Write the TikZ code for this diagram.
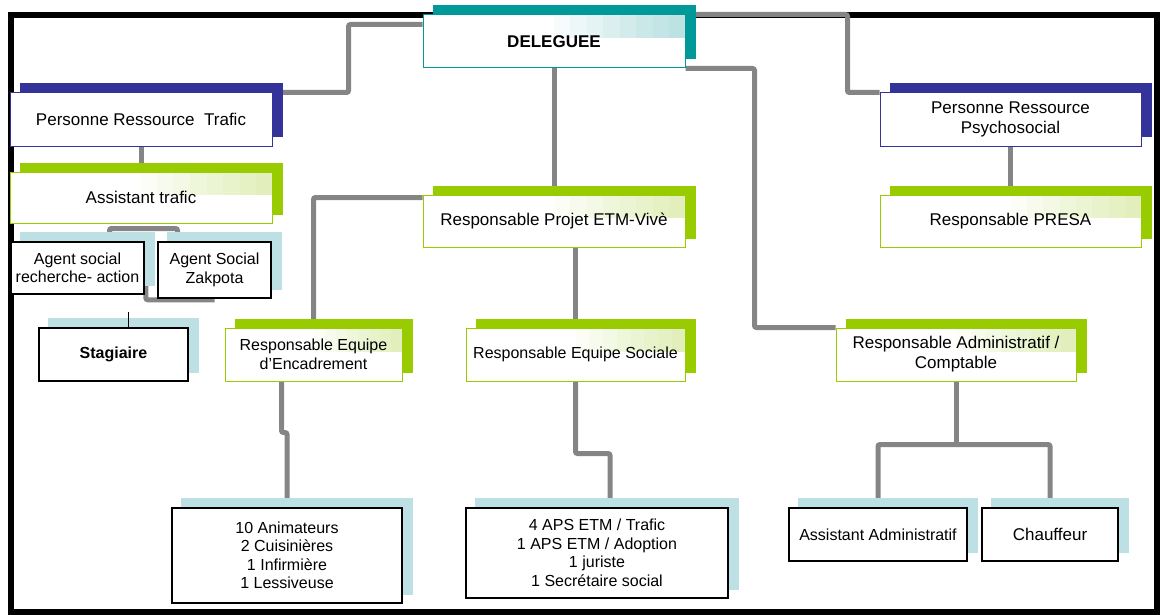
\documentclass[tikz,border=0pt]{standalone}
\usepackage{fontspec}
\setmainfont{Liberation Sans}
\usetikzlibrary{backgrounds,calc}
\definecolor{navy}{HTML}{333399}
\definecolor{leaf}{HTML}{99CC00}
\definecolor{sea}{HTML}{009999}
\definecolor{ice}{HTML}{BCE0E4}
\definecolor{wire}{HTML}{858585}
\tikzset{
    big-text/.style = {font=\fontsize{17}{20}\selectfont},
    small-text/.style = {font=\fontsize{16}{18.5}\selectfont},
    org-box/.style = {rectangle, align=center, inner sep=2pt, big-text},
    navy-box/.style = {org-box, draw=navy, line width=1pt},
    leaf-box/.style = {org-box, draw=leaf, line width=1pt},
    sea-box/.style = {org-box, draw=sea, line width=1pt},
    ice-box/.style = {org-box, small-text, draw=black, line width=1.6pt},
    link/.style = {draw=wire, line width=5pt, rounded corners=2pt},
}
\begin{document}
\begin{tikzpicture}[x=1pt, y=-1pt]
\useasboundingbox (0,0) rectangle (1164,615);
% top
\node[sea-box, font=\fontsize{17}{20}\selectfont\bfseries, minimum width=262pt, minimum height=53pt] (deleguee) at (554,41.5) {DELEGUEE};
% left branch
\node[navy-box, minimum width=262pt, minimum height=53pt] (prt) at (141,119.5) {Personne Ressource\ \ Trafic};
\node[leaf-box, minimum width=262pt, minimum height=51pt] (at) at (141,197.5) {Assistant trafic};
\node[ice-box, minimum width=133pt, minimum height=52pt] (asr) at (77.5,268) {Agent social\\recherche- action};
\node[ice-box, minimum width=113pt, minimum height=56pt] (asz) at (214.5,270) {Agent Social\\Zakpota};
\node[ice-box, font=\fontsize{16}{18.5}\selectfont\bfseries, minimum width=149pt, minimum height=53pt] (stg) at (113.5,354.5) {Stagiaire};
% middle branch
\node[leaf-box, minimum width=262pt, minimum height=52pt] (rpe) at (554,221) {Responsable Projet ETM-Vivè};
\node[leaf-box, small-text, minimum width=177pt, minimum height=53pt] (red) at (313.5,354.5) {Responsable Equipe\\d’Encadrement};
\node[leaf-box, small-text, minimum width=219pt, minimum height=53pt] (res) at (575.5,354.5) {Responsable Equipe Sociale};
\node[ice-box, minimum width=230pt, minimum height=95pt] (anim) at (287,555.5) {10 Animateurs\\2 Cuisinières\\1 Infirmière\\1 Lessiveuse};
\node[ice-box, minimum width=262pt, minimum height=90pt] (aps) at (597,553) {4 APS ETM / Trafic\\1 APS ETM / Adoption\\1 juriste\\1 Secrétaire social};
% right branch
\node[navy-box, minimum width=261pt, minimum height=53pt] (prp) at (1010.5,119.5) {Personne Ressource\\Psychosocial};
\node[leaf-box, minimum width=261pt, minimum height=52pt] (presa) at (1010.5,221) {Responsable PRESA};
\node[leaf-box, minimum width=240pt, minimum height=53pt] (rad) at (956,354.5) {Responsable Administratif /\\Comptable};
\node[ice-box, minimum width=178pt, minimum height=53pt] (aadm) at (878,534.5) {Assistant Administratif};
\node[ice-box, big-text, minimum width=136pt, minimum height=53pt] (chf) at (1050,534.5) {Chauffeur};
% frame, connectors, then backs, fills and glows of the boxes
\begin{scope}[on background layer]
\draw[line width=6pt] (11,15) rectangle (1157,612);
\draw[link] ([yshift=-10pt]deleguee.north west) -| ([xshift=76pt]prt.north east) -- (prt.north east);
\draw[link] (deleguee.north east) -| ([xshift=-32pt]prp.north west) -- (prp.north west);
\draw[link] (deleguee) -- (rpe);
\draw[link] (deleguee.south east) -| ([xshift=-81pt]rad.north west) -- (rad.north west);
\draw[link] (prt) -- (at);
\draw[link] ([xshift=32pt]asr.north) |- ([yshift=-5pt]at.south) -| ([xshift=-37pt]asz.north);
\draw[link] ([xshift=1pt, yshift=10pt]asr.south east) |- ([yshift=-1pt]asz.south);
\draw[link] ([yshift=-3pt]rpe.north west) -| (red);
\draw[link] (res) -- (res |- rpe.south);
\draw[link] ([xshift=-32pt]red.south) -- ++(0,51) -| (anim);
\draw[link] (res.south) -- ++(0,72) -| ([xshift=13pt]aps.north);
\draw[link] (prp) -- (presa);
\draw[link] (rad) -- ([yshift=-63pt]rad.south);
\draw[link] (aadm) |- ([yshift=-63pt]rad.south) -| (chf);
\foreach \n/\c in {deleguee/sea, prt/navy, prp/navy, at/leaf, rpe/leaf, presa/leaf, red/leaf, res/leaf, rad/leaf,
                   asr/ice, asz/ice, stg/ice, anim/ice, aps/ice, aadm/ice, chf/ice} {
    \fill[\c] ([xshift=10pt, yshift=9pt]\n.south west) rectangle ([xshift=10pt, yshift=9pt]\n.north east);
    \fill[white] (\n.south west) rectangle (\n.north east);
}
\foreach \n/\c in {deleguee/sea, at/leaf, rpe/leaf, presa/leaf, red/leaf, res/leaf, rad/leaf}
    \foreach \i in {0,...,7}
        \fill[\c, opacity=0.035] ($(\n.north)!\i/8!(\n.north east)$) rectangle ([yshift=3pt]\n.east);
\end{scope}
\draw[line width=1pt] ([xshift=15pt]stg.north) -- ++(0,-15);
\end{tikzpicture}
\end{document}
